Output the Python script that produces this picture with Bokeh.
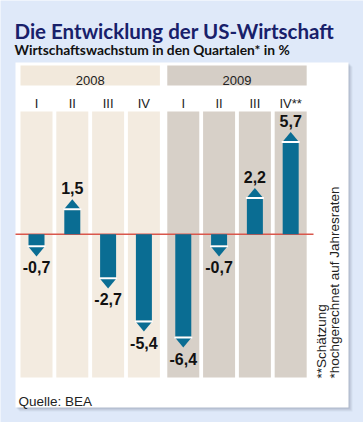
import math
from bokeh.plotting import figure
from bokeh.models import Range1d, Label, ColumnDataSource
from bokeh.embed import file_html
from bokeh.resources import INLINE
from bokeh.core.properties import value

# ---- data ----
title_text = "Die Entwicklung der US-Wirtschaft"
subtitle_text = "Wirtschaftswachstum in den Quartalen* in %"
years = ["2008", "2009"]
year_of = [0, 0, 0, 0, 1, 1, 1, 1]
quarters = ["I", "II", "III", "IV", "I", "II", "III", "IV**"]
growth = [-0.7, 1.5, -2.7, -5.4, -6.4, -0.7, 2.2, 5.7]
growth_labels = ["-0,7", "1,5", "-2,7", "-5,4", "-6,4", "-0,7", "2,2", "5,7"]
notes = ["**Schätzung", "*hochgerechnet auf Jahresraten"]
source_text = "Quelle: BEA"

# ---- layout (page pixels of reference) ----
W, H = 363, 422
MARGIN = 0
PXX = 35.8   # px per quarter slot
PXY = 16.0   # px per percentage point
X0 = 36.0    # page x of first slot centre
Y0 = 233.7   # page y of zero line
YEAR_GAP = 0.1

def X(px): return (px - X0) / PXX
def Y(py): return (Y0 - py) / PXY
def DX(px): return px / PXX
def DY(px): return px / PXY

BG = "#dfe9f9"
COL_COLORS = ["#f3ebe0", "#d7d0c8"]
BAND_COLORS = ["#f2e9dc", "#d5cec6"]
BAR = "#0a6d93"
FONT = "Liberation Sans"
HEAD_FONT = "Lato"

xpos = [i + YEAR_GAP * year_of[i] for i in range(len(quarters))]

p = figure(width=W, height=H,
           x_range=Range1d(X(MARGIN), X(MARGIN + W)),
           y_range=Range1d(Y(MARGIN + H), Y(MARGIN)),
           output_backend="svg", toolbar_location=None,
           x_axis_location=None, y_axis_location=None,
           min_border=0)
p.grid.visible = False
p.outline_line_color = None
p.background_fill_color = BG
p.border_fill_color = BG

# panel shadow
for k, a in [(4, 0.10), (3, 0.12), (2, 0.16), (1, 0.2)]:
    p.quad(left=X(15 + k), right=X(348 + k), top=Y(62 + k), bottom=Y(407 + k),
           fill_color="#7d879a", fill_alpha=a, line_color=None)
# panel
p.quad(left=X(15), right=X(348), top=Y(62), bottom=Y(407),
       fill_color="white", line_color=None)

colw = DX(32)
# year bands
for yi, yr in enumerate(years):
    idx = [i for i in range(len(quarters)) if year_of[i] == yi]
    left = xpos[idx[0]] - colw / 2
    right = xpos[idx[-1]] + colw / 2
    p.quad(left=left, right=right, top=Y(65), bottom=Y(85),
           fill_color=BAND_COLORS[yi], line_color=None)
    p.add_layout(Label(x=(left + right) / 2, y=Y(80), text=yr,
                       text_font=FONT, text_font_size="13px",
                       text_color="#222222", text_align="center",
                       text_baseline="alphabetic"))

# columns
src = ColumnDataSource(dict(
    x=xpos, q=quarters, v=growth, lab=growth_labels,
    colc=[COL_COLORS[y] for y in year_of],
    laby=[v + (DY(22) if v > 0 else -DY(22)) for v in growth],
))
p.vbar(x="x", width=colw, top=Y(111), bottom=Y(377),
       fill_color="colc", line_color=None, source=src)

# quarter labels
p.text(x="x", y=Y(103.3), text="q", source=src,
       text_font=value(FONT), text_font_size="13px", text_color="#222222",
       text_align="center", text_baseline="alphabetic")

# zero line
p.segment(x0=X(15), x1=X(313), y0=0, y1=0, line_color="#d9574c", line_width=1.5)

# bars
p.vbar(x="x", width=DX(16), top="v", bottom=0, fill_color=BAR,
       line_color=None, source=src)

# arrow heads
xs, ys = [], []
hw = DX(8.7)
for x, v in zip(xpos, growth):
    s = 1 if v > 0 else -1
    base = v + s * DY(0.5)
    tip = v + s * DY(11)
    xs.append([x - hw, x + hw, x])
    ys.append([base, base, tip])
p.patches(xs=xs, ys=ys, fill_color=BAR, line_color=None)
# white separators
p.segment(x0=[x - DX(9) for x in xpos], x1=[x + DX(9) for x in xpos],
          y0=[v + (DY(1) if v > 0 else -DY(1)) for v in growth],
          y1=[v + (DY(1) if v > 0 else -DY(1)) for v in growth],
          line_color="white", line_width=1.8)

# value labels
p.text(x="x", y="laby", text="lab", source=src,
       text_font=value(FONT), text_font_size="16px", text_font_style="bold",
       text_color="#111111", text_align="center", text_baseline="middle")

# notes (rotated)
for nx, t in zip([320.5, 333.5], notes):
    p.add_layout(Label(x=X(nx), y=Y(378), text=t, angle=math.pi / 2,
                       text_font=FONT, text_font_size="13.5px",
                       text_color="#222222", text_align="left",
                       text_baseline="middle"))

# source
p.add_layout(Label(x=X(18), y=Y(400.5), text=source_text,
                   text_font=FONT, text_font_size="13.5px",
                   text_color="#222222", text_align="left",
                   text_baseline="alphabetic"))

# title and subtitle
p.add_layout(Label(x=X(14), y=Y(30.7), text=title_text,
                   text_font=HEAD_FONT, text_font_size="20.5px",
                   text_font_style="bold", text_color="#18206a",
                   text_align="left", text_baseline="alphabetic"))
p.add_layout(Label(x=X(14), y=Y(49.3), text=subtitle_text,
                   text_font=HEAD_FONT, text_font_size="13.8px",
                   text_font_style="bold", text_color="#111111",
                   text_align="left", text_baseline="alphabetic"))

open("out.html", "w").write(file_html(p, INLINE))
